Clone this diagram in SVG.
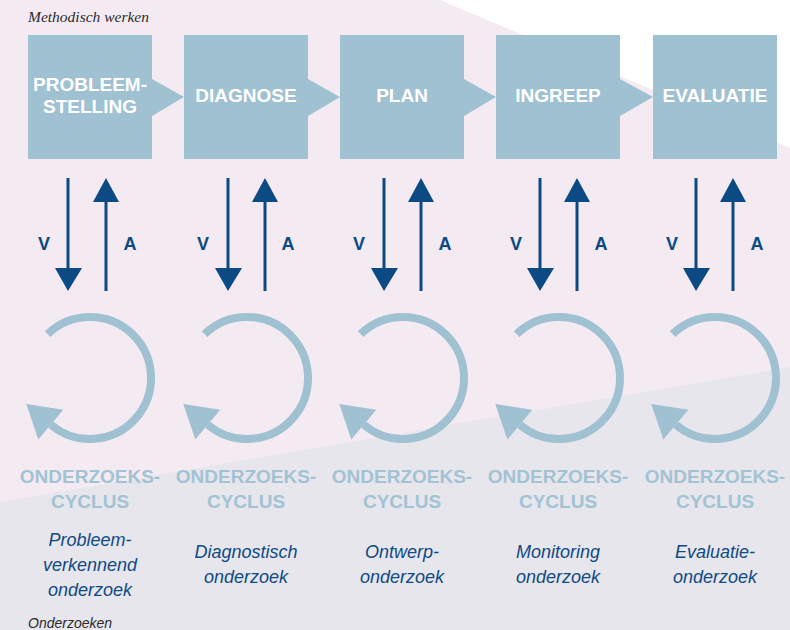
<svg xmlns="http://www.w3.org/2000/svg" xmlns:xlink="http://www.w3.org/1999/xlink" width="790" height="630" viewBox="0 0 790 630">
<defs>
<style>
.box{fill:#9fc1d1}
.bt{font-family:"Liberation Sans",Arial,sans-serif;font-weight:bold;font-size:19px;fill:#ffffff;text-anchor:middle}
.va{font-family:"Liberation Sans",Arial,sans-serif;font-weight:bold;font-size:18px;fill:#0b4a82;text-anchor:middle}
.ln{stroke:#0b4a82;stroke-width:3;fill:none}
.hd{fill:#0b4a82}
.cy{font-family:"Liberation Sans",Arial,sans-serif;font-weight:bold;font-size:19px;fill:#a2c3d3;text-anchor:middle}
.it{font-family:"Liberation Sans",Arial,sans-serif;font-style:italic;font-size:18px;fill:#0f4a85;text-anchor:middle}
.cap{font-style:italic;fill:#2b2b2b}
</style>
<g id="cycle">
<path d="M -42.4 -43.9 A 61 61 0 1 1 -39.2 46.7" fill="none" stroke="#9fc1d1" stroke-width="8"/>
<polygon points="-63.7,26.1 -51.7,61.6 -26.7,31.8" fill="#9fc1d1"/>
</g>
</defs>
<rect width="790" height="630" fill="#f3eaf2"/>
<polygon points="440,0 790,0 790,148" fill="#ffffff"/>
<polygon points="0,502 790,367 790,630 0,630" fill="#e7e6ec"/>
<text x="28" y="22" class="cap" font-size="15.5" font-family="'Liberation Serif',serif">Methodisch werken</text>
<text x="28" y="628" class="cap" font-size="14" font-family="'Liberation Sans',sans-serif">Onderzoeken</text>

<g id="connectors">
<polygon class="box" points="152,79 184,97 152,116"/>
<polygon class="box" points="308,79 340,97 308,116"/>
<polygon class="box" points="464,79 496,97 464,116"/>
<polygon class="box" points="620,79 653,97 620,116"/>
<g id="va1"><line class="ln" x1="68" y1="178" x2="68" y2="270"/><polygon class="hd" points="55,268 82,268 68,291"/><line class="ln" x1="106" y1="200" x2="106" y2="291"/><polygon class="hd" points="93,202 119,202 106,178"/></g>
<g id="va2"><line class="ln" x1="228" y1="178" x2="228" y2="270"/><polygon class="hd" points="215,268 242,268 228,291"/><line class="ln" x1="265" y1="200" x2="265" y2="291"/><polygon class="hd" points="252,202 278,202 265,178"/></g>
<g id="va3"><line class="ln" x1="384" y1="178" x2="384" y2="270"/><polygon class="hd" points="371,268 398,268 384,291"/><line class="ln" x1="421" y1="200" x2="421" y2="291"/><polygon class="hd" points="408,202 434,202 421,178"/></g>
<g id="va4"><line class="ln" x1="540" y1="178" x2="540" y2="270"/><polygon class="hd" points="527,268 554,268 540,291"/><line class="ln" x1="577" y1="200" x2="577" y2="291"/><polygon class="hd" points="564,202 590,202 577,178"/></g>
<g id="va5"><line class="ln" x1="696" y1="178" x2="696" y2="270"/><polygon class="hd" points="683,268 710,268 696,291"/><line class="ln" x1="733" y1="200" x2="733" y2="291"/><polygon class="hd" points="720,202 746,202 733,178"/></g>
<text class="va" x="44" y="250">V</text><text class="va" x="130" y="250">A</text>
<text class="va" x="203" y="250">V</text><text class="va" x="288" y="250">A</text>
<text class="va" x="359" y="250">V</text><text class="va" x="445" y="250">A</text>
<text class="va" x="516" y="250">V</text><text class="va" x="601" y="250">A</text>
<text class="va" x="672" y="250">V</text><text class="va" x="757" y="250">A</text>
</g>

<g id="n1"><rect class="box" x="28" y="35" width="124" height="124"/><text class="bt" x="90" y="91">PROBLEEM-</text><text class="bt" x="90" y="113">STELLING</text></g>
<g id="n2"><rect class="box" x="184" y="35" width="124" height="124"/><text class="bt" x="246" y="102">DIAGNOSE</text></g>
<g id="n3"><rect class="box" x="340" y="35" width="124" height="124"/><text class="bt" x="402" y="102">PLAN</text></g>
<g id="n4"><rect class="box" x="496" y="35" width="124" height="124"/><text class="bt" x="558" y="102">INGREEP</text></g>
<g id="n5"><rect class="box" x="653" y="35" width="124" height="124"/><text class="bt" x="715" y="102">EVALUATIE</text></g>

<g id="c1"><use xlink:href="#cycle" transform="translate(90,378)"/><text class="cy" x="90" y="483">ONDERZOEKS-</text><text class="cy" x="90" y="508">CYCLUS</text><text class="it" x="90" y="546">Probleem-</text><text class="it" x="90" y="571">verkennend</text><text class="it" x="90" y="596">onderzoek</text></g>
<g id="c2"><use xlink:href="#cycle" transform="translate(247,378)"/><text class="cy" x="246" y="483">ONDERZOEKS-</text><text class="cy" x="246" y="508">CYCLUS</text><text class="it" x="246" y="558">Diagnostisch</text><text class="it" x="246" y="583">onderzoek</text></g>
<g id="c3"><use xlink:href="#cycle" transform="translate(403,378)"/><text class="cy" x="402" y="483">ONDERZOEKS-</text><text class="cy" x="402" y="508">CYCLUS</text><text class="it" x="402" y="558">Ontwerp-</text><text class="it" x="402" y="583">onderzoek</text></g>
<g id="c4"><use xlink:href="#cycle" transform="translate(559,378)"/><text class="cy" x="558" y="483">ONDERZOEKS-</text><text class="cy" x="558" y="508">CYCLUS</text><text class="it" x="558" y="558">Monitoring</text><text class="it" x="558" y="583">onderzoek</text></g>
<g id="c5"><use xlink:href="#cycle" transform="translate(715,378)"/><text class="cy" x="715" y="483">ONDERZOEKS-</text><text class="cy" x="715" y="508">CYCLUS</text><text class="it" x="715" y="558">Evaluatie-</text><text class="it" x="715" y="583">onderzoek</text></g>
</svg>
